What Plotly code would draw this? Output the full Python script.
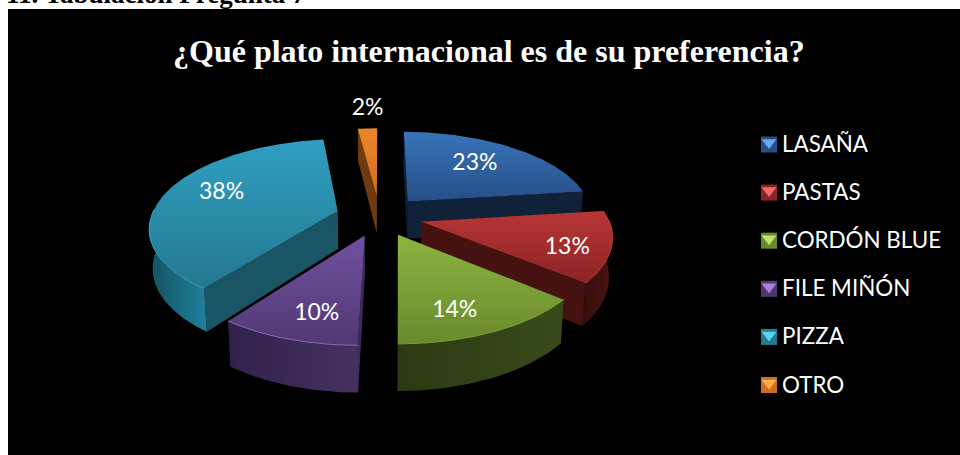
import numpy as np
import plotly.graph_objects as go

# Survey results
categories = ["LASAÑA", "PASTAS", "CORDÓN BLUE", "FILE MIÑÓN", "PIZZA", "OTRO"]
percentages = [23, 13, 14, 10, 38, 2]
chart_title = "¿Qué plato internacional es de su preferencia?"
section_heading = "11. Tabulación Pregunta 7"

# Slice colours: top face (far, near), outer wall (left, right), cut faces, rim highlight
top_colors = [("#3873b8", "#264f88"), ("#b83636", "#8c2424"), ("#8db340", "#688a2c"),
              ("#7151a0", "#513873"), ("#2f9fc2", "#24788f"), ("#ea872c", "#d26d1a")]
wall_colors = [("#10243f", "#0e2038"), ("#4a1412", "#360d0c"), ("#384a1b", "#2c3a13"),
               ("#453160", "#30214a"), ("#1f809c", "#14525f"), ("#7c4212", "#6a370e")]
cut_colors = ["#0f2239", "#451210", "#2f3d15", "#3d2b57", "#1a5566", "#6e3a10"]
rim_colors = ["#3873b8", "#b83c3c", "#7f9f38", "#8a6cb5", "#37a5c6", "#ea872c"]

# Label placement: distance from the apex along the slice's mid-angle, then a small nudge
label_radius = [0.66, 0.78, 0.66, 0.62, 0.62, 1.36]
label_nudge_x = [-4, -1, -3, -3, -9, 3]
label_nudge_y = [0, 7, 16, 19, -5, 1]

# Tilted-disc projection used for the slices
CX, CY, SCALE_X, SCALE_Y = 379.5, 216, 186, 85
PERSPECTIVE, DEPTH, BASE_SHRINK, EXPLODE, NEAR_SKEW = 0.16, 38, 0.985, 0.235, 4


def project(X, Y, lower=False):
    X, Y = np.asarray(X, float), np.asarray(Y, float)
    w = 1 + PERSPECTIVE * Y
    x = CX + SCALE_X * X / w + NEAR_SKEW * np.minimum(Y, 0)
    y = CY - SCALE_Y * Y / w
    if lower:
        x = CX + (x - CX) * BASE_SHRINK
        y = y + DEPTH / w
    return x, y


def polygon(xs, ys, gradient=None, orientation="vertical", color=None):
    kwargs = dict(x=list(xs), y=list(ys), mode="lines", fill="toself",
                  line=dict(width=0), showlegend=False, hoverinfo="skip")
    if gradient:
        kwargs["fillgradient"] = dict(type=orientation,
                                      colorscale=[[0, gradient[0]], [1, gradient[1]]])
        kwargs["fillcolor"] = gradient[0]
    else:
        kwargs["fillcolor"] = color
    return go.Scatter(**kwargs)


fig = go.Figure()

# Turn the percentages into slice geometry, going clockwise from twelve o'clock
edges = np.cumsum([0] + percentages) * 3.6
slices = []
for i in range(len(percentages)):
    a, b = edges[i], edges[i + 1]
    mid = np.radians((a + b) / 2)
    ax, ay = EXPLODE * np.sin(mid), EXPLODE * np.cos(mid)
    slices.append(dict(i=i, a=a, b=b, mid=mid, ax=ax, ay=ay))

# Paint from the far side of the disc to the near side
for s in sorted(slices, key=lambda d: -d["ay"]):
    i, a, b, ax, ay = s["i"], s["a"], s["b"], s["ax"], s["ay"]
    theta = np.radians(np.linspace(a, b, max(int(b - a) * 2, 2) + 1))
    rim_X, rim_Y = ax + np.sin(theta), ay + np.cos(theta)

    # Flat cut faces running from the apex out to each end of the rim
    for k in (0, -1):
        ex = [ax, rim_X[k]]
        ey = [ay, rim_Y[k]]
        tx, ty = project(ex, ey)
        bx, by = project(ex, ey, lower=True)
        fig.add_trace(polygon(np.r_[tx, bx[::-1]], np.r_[ty, by[::-1]], color=cut_colors[i]))

    # Curved outer wall, only where it faces the viewer
    front = np.cos(theta) < 0.02
    if front.sum() > 1:
        tx, ty = project(rim_X[front], rim_Y[front])
        bx, by = project(rim_X[front], rim_Y[front], lower=True)
        fig.add_trace(polygon(np.r_[tx, bx[::-1]], np.r_[ty, by[::-1]],
                              gradient=wall_colors[i][::-1], orientation="horizontal"))

    # Top face
    tx, ty = project(np.r_[ax, rim_X], np.r_[ay, rim_Y])
    fig.add_trace(polygon(tx, ty, gradient=top_colors[i][::-1], orientation="vertical"))

    # Thin highlight along the front of the rim
    if front.sum() > 1:
        hx, hy = project(rim_X[front], rim_Y[front])
        fig.add_trace(go.Scatter(x=hx, y=hy, mode="lines", showlegend=False, hoverinfo="skip",
                                 line=dict(color=rim_colors[i], width=1)))

# Percentage labels on each slice
lab_X = [s["ax"] + r * np.sin(s["mid"]) for s, r in zip(slices, label_radius)]
lab_Y = [s["ay"] + r * np.cos(s["mid"]) for s, r in zip(slices, label_radius)]
lab_x, lab_y = project(lab_X, lab_Y)
fig.add_trace(go.Scatter(x=lab_x + np.array(label_nudge_x), y=lab_y + np.array(label_nudge_y),
                         mode="text", showlegend=False, hoverinfo="skip",
                         text=[f"{p}%" for p in percentages], textposition="middle center",
                         textfont=dict(family="Lato", size=23, color="#ffffff")))

# Legend column: bevelled swatch plus label
LEG_X, LEG_TOP, LEG_STEP = 769, 144.5, 48.1
leg_y = [LEG_TOP + LEG_STEP * i for i in range(len(categories))]
swatch_base = [top_colors[i][1] for i in range(len(categories))]
swatch_light = ["#6ba6ee", "#ee6a6a", "#c2e070", "#a583d8", "#55d4f2", "#ffb050"]
fig.add_trace(go.Scatter(x=[LEG_X] * 6, y=leg_y, mode="markers", showlegend=False, hoverinfo="skip",
                         marker=dict(symbol="square", size=16, color=swatch_base, line=dict(width=0))))
fig.add_trace(go.Scatter(x=[LEG_X] * 6, y=[v - 2 for v in leg_y], mode="markers",
                         showlegend=False, hoverinfo="skip",
                         marker=dict(symbol="triangle-down", size=13, color=swatch_light, line=dict(width=0))))
for name, yy in zip(categories, leg_y):
    fig.add_annotation(x=780, y=yy - 1, text=name, showarrow=False, xanchor="left", yanchor="middle",
                       font=dict(family="Lato", size=22.4, color="#ffffff"))

# Chart title and the document heading cut off by the top edge
fig.add_annotation(x=489, y=51, text=f"<b>{chart_title}</b>", showarrow=False,
                   xanchor="center", yanchor="middle",
                   font=dict(family="Liberation Serif", size=32, color="#ffffff"))
fig.add_annotation(x=0.004, y=1, xref="paper", yref="paper", yshift=6, text=f"<b>{section_heading}</b>",
                   showarrow=False, xanchor="left", yanchor="middle",
                   font=dict(family="Liberation Serif", size=27, color="#000000"))

fig.update_layout(
    width=960, height=455, margin=dict(l=0, r=0, t=0, b=0),
    paper_bgcolor="#ffffff", plot_bgcolor="#ffffff", hovermode=False, showlegend=False,
    xaxis=dict(range=[0, 960], visible=False, fixedrange=True),
    yaxis=dict(range=[455, 0], visible=False, fixedrange=True),
    shapes=[dict(type="rect", xref="x", yref="y", x0=8, x1=960, y0=9, y1=455,
                 fillcolor="#000000", line=dict(width=0), layer="below")],
)
fig.write_html("out.html", config={"displayModeBar": False})
